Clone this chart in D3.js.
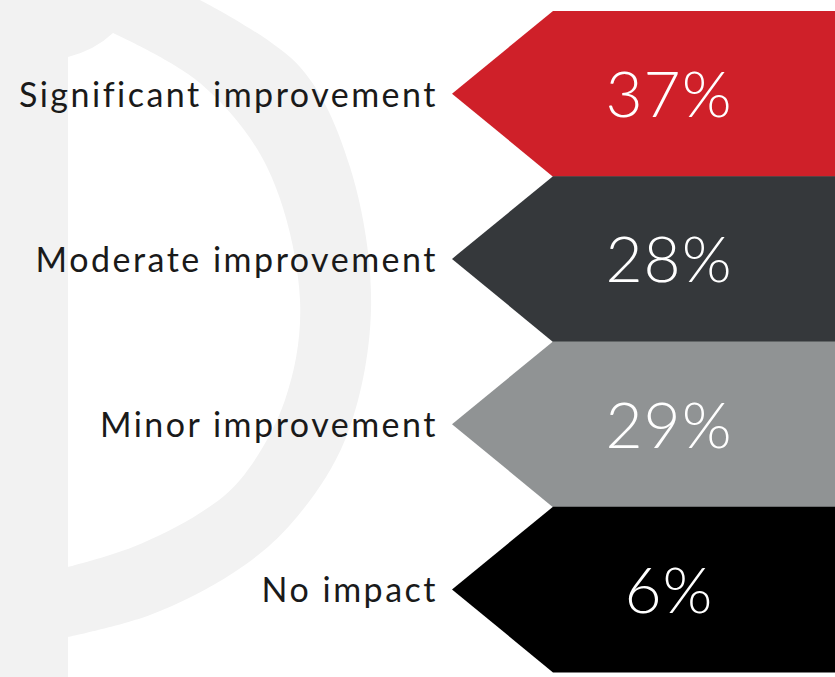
<!DOCTYPE html>
<html>
<head>
<meta charset="utf-8">
<script src="https://cdn.jsdelivr.net/npm/d3@7"></script>
<style>
  html, body { margin: 0; padding: 0; background: #fff; }
  svg { display: block; }
</style>
</head>
<body>
<svg id="chart"></svg>
<script>
// data
const categories = ["Significant improvement", "Moderate improvement", "Minor improvement", "No impact"];
const values = [37, 28, 29, 6];
const colors = ["#cf2029", "#35383b", "#909394", "#000000"];

const width = 835, height = 677;

let svg = d3.select("#chart")
    .attr("width", width)
    .attr("height", height);

// background watermark "p"
let outer = [[200, 0], [300, 67], [350, 167], [371, 310], [345, 440], [290, 525], [233, 573], [150, 615], [68, 637]];
let inner = [[113, 33], [200, 83], [267, 167], [300, 300], [285, 400], [240, 480], [200, 513], [133, 547], [68, 567]];
let curve = d3.line().curve(d3.curveCatmullRom);

let markPath = "M0,0L" + curve(outer).slice(1) + "L68,677L0,677Z"
    + "M68,57Q95,50 " + curve(inner).slice(1) + "Z";

svg.append("path")
    .attr("d", markPath)
    .attr("fill", "#f2f2f2")
    .attr("fill-rule", "evenodd");

// scales
let y = d3.scaleBand()
    .domain(categories)
    .range([11, 672])
    .padding(0);

let tipX = 452, bodyX = 553, rightX = width;

// arrows
let rows = svg.append("g").selectAll("g")
    .data(categories)
    .enter().append("g");

rows.append("path")
    .attr("fill", (d, i) => colors[i])
    .attr("d", function (d) {
        let y0 = y(d), y1 = y(d) + y.bandwidth(), ym = (y0 + y1) / 2;
        let p = d3.path();
        p.moveTo(tipX, ym);
        p.lineTo(bodyX, y0);
        p.lineTo(rightX, y0);
        p.lineTo(rightX, y1 + 0.5);
        p.lineTo(bodyX, y1 + 0.5);
        p.closePath();
        return p.toString();
    });

// value labels
rows.append("text")
    .attr("x", 669)
    .attr("y", d => y(d) + y.bandwidth() / 2 + 23.5)
    .attr("text-anchor", "middle")
    .style("font-family", "Lato, 'Open Sans', sans-serif")
    .style("font-weight", 300)
    .style("font-size", "64px")
    .style("letter-spacing", "1px")
    .style("fill", "#fff")
    .text((d, i) => values[i] + "%");

// category labels
rows.append("text")
    .attr("x", 438)
    .attr("y", d => y(d) + y.bandwidth() / 2 + 13)
    .attr("text-anchor", "end")
    .style("font-family", "Lato, 'Open Sans', sans-serif")
    .style("font-size", "34px")
    .style("letter-spacing", "2.5px")
    .style("fill", "#1a1a1a")
    .text(d => d);
</script>
</body>
</html>
